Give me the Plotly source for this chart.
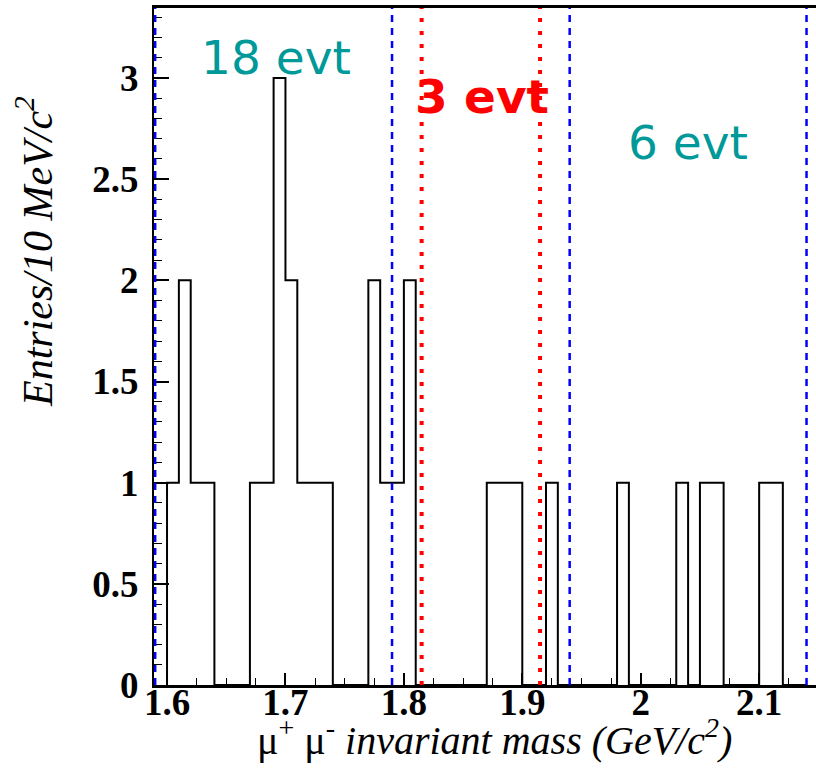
import numpy as np
import plotly.graph_objects as go

# Histogram data: 10 MeV bins starting at 1.60 GeV
bin_lo = 1.60
bin_width = 0.01
counts = [1, 2, 1, 1, 0, 0, 0, 1, 1, 3,   # 1.60 - 1.69
          2, 1, 1, 1, 0, 0, 0, 2, 1, 1,   # 1.70 - 1.79
          2, 0, 0, 0, 0, 0, 0, 1, 1, 1,   # 1.80 - 1.89
          0, 0, 1, 0, 0, 0, 0, 0, 1, 0,   # 1.90 - 1.99
          0, 0, 0, 1, 0, 1, 1, 0, 0, 0,   # 2.00 - 2.09
          1, 1, 0, 0]                     # 2.10 - 2.13

sideband_edges = [1.59, 1.79, 1.94, 2.14]
signal_edges = [1.815, 1.915]

labels = ["18 evt", "3 evt", "6 evt"]
label_x = [1.692, 1.866, 2.040]
label_y = [3.10, 2.91, 2.68]
label_colors = ["#009999", "#ff0000", "#009999"]
label_bold = [False, True, False]

x_tick_vals = [1.6, 1.7, 1.8, 1.9, 2.0, 2.1]
x_tick_text = ["1.6", "1.7", "1.8", "1.9", "2", "2.1"]
y_tick_vals = [0, 0.5, 1, 1.5, 2, 2.5, 3]
y_tick_text = ["0", "0.5", "1", "1.5", "2", "2.5", "3"]

edges = bin_lo + bin_width * np.arange(len(counts) + 1)
xs = [edges[0]] + list(edges)
ys = [0] + counts + [0]

fig = go.Figure()
fig.add_trace(go.Scatter(x=xs, y=ys, mode="lines", line=dict(color="black", width=2, shape="hv"),
                         hoverinfo="skip", showlegend=False))

for xv in sideband_edges:
    fig.add_shape(type="line", x0=xv, x1=xv, y0=0, y1=1, xref="x", yref="paper",
                  line=dict(color="#0000ff", width=2.5, dash="7px,6px"))
for xv in signal_edges:
    fig.add_shape(type="line", x0=xv, x1=xv, y0=0, y1=1, xref="x", yref="paper",
                  line=dict(color="#ff0000", width=4, dash="4px,9px"))

for t, xv, yv, c, b in zip(labels, label_x, label_y, label_colors, label_bold):
    fig.add_annotation(x=xv, y=yv, xref="x", yref="y", text=t, showarrow=False,
                       font=dict(family="Comic Sans MS, DejaVu Sans", size=47, color=c,
                                 weight="bold" if b else "normal"),
                       xanchor="center", yanchor="middle")

# axis titles
fig.add_annotation(xref="paper", yref="paper", x=0.5136, y=0, yshift=-52,
                   text="μ<sup>+</sup> μ<sup>-</sup> <i>invariant mass (GeV/c<sup>2</sup>)</i>",
                   showarrow=False, xanchor="center", yanchor="middle",
                   font=dict(family="Liberation Serif", size=40, color="black"))
fig.add_annotation(xref="paper", yref="paper", x=0, xshift=-119, y=0.6396,
                   text="<i>Entries/10 MeV/c<sup>2</sup></i>", textangle=-90,
                   showarrow=False, xanchor="center", yanchor="middle",
                   font=dict(family="Liberation Serif", size=42, color="black"))

tickfont = dict(family="Liberation Serif", size=37, color="black", weight="bold")

fig.update_layout(
    width=816, height=771,
    margin=dict(l=154, r=0, t=8, b=86),
    paper_bgcolor="white", plot_bgcolor="white",
    xaxis=dict(range=[1.589, 2.148], tickvals=x_tick_vals, ticktext=x_tick_text,
               ticks="inside", ticklen=12, tickwidth=1.5, tickcolor="black",
               minor=dict(dtick=0.025, tick0=1.6, ticks="inside", ticklen=7, tickwidth=1, tickcolor="black"),
               showline=True, linecolor="black", linewidth=3, mirror=True,
               showgrid=False, zeroline=False, tickfont=tickfont, ticklabelstandoff=-17),
    yaxis=dict(range=[0, 3.346], tickvals=y_tick_vals, ticktext=y_tick_text,
               ticks="inside", ticklen=15, tickwidth=1.5, tickcolor="black",
               minor=dict(dtick=0.1, tick0=0, ticks="inside", ticklen=8, tickwidth=1, tickcolor="black"),
               showline=True, linecolor="black", linewidth=2, mirror=False,
               showgrid=False, zeroline=False, tickfont=tickfont, ticklabelstandoff=6),
)

fig.write_html("out.html")
